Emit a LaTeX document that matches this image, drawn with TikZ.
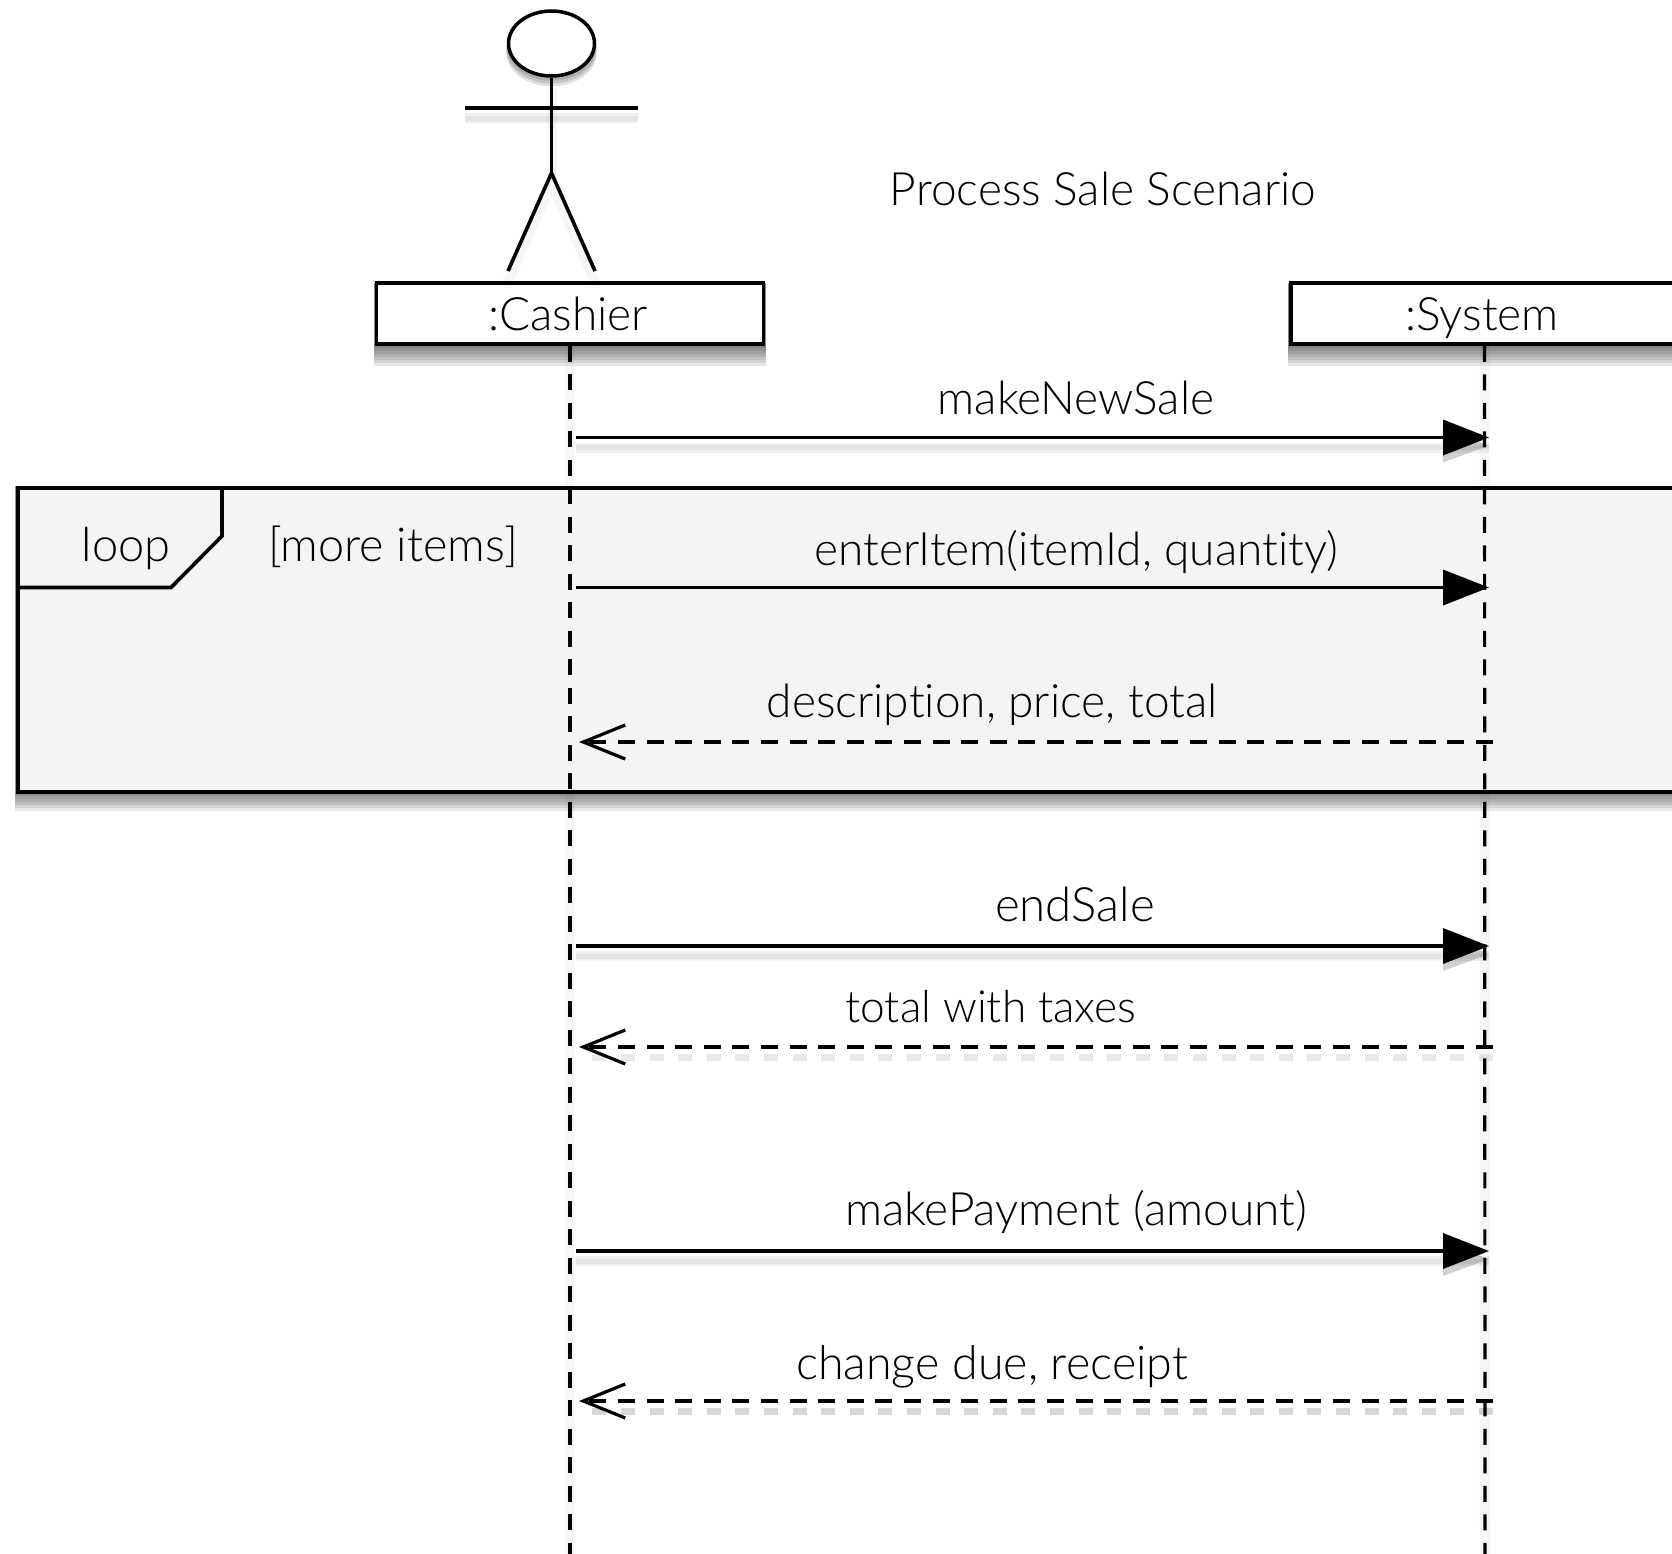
\documentclass[tikz,border=0pt]{standalone}
\usepackage{fontspec}
\setmainfont[Ligatures=NoCommon]{Lato Light}
\usetikzlibrary{arrows.meta,backgrounds,shapes.geometric}
\tikzset{
  ink/.style={line width=1.8pt,black,line cap=butt},
  classbox/.style={draw=black,line width=1.75pt,fill=white,rectangle,minimum width=193.5pt,minimum height=30.5pt,inner sep=0pt},
  framebox/.style={draw=black,line width=1.75pt,fill=framegray,rectangle,minimum width=836pt,minimum height=152pt,inner sep=0pt},
  lifeline/.style={line width=1.6pt,black,dash pattern=on 8pt off 6.25pt},
  sync/.style={ink,-{Triangle[length=23pt,width=17.5pt]}},
  reply/.style={ink,dash pattern=on 8.5pt off 5.8pt,-{Straight Barb[length=21pt,width=17pt,line width=1.6pt]}},
  lbl/.style={anchor=base,inner sep=0pt,font=\fontsize{23}{27}\selectfont,text=black},
  softline/.style={black,draw opacity=.05,line width=2.5pt},
  softwide/.style={black,draw opacity=.06,line width=5pt},
  softfaint/.style={black,draw opacity=.035,line width=5pt},
  softdash/.style={black!60,draw opacity=.14,line width=3.5pt,dash pattern=on 7pt off 7.3pt},
  layerfill/.style={black,fill opacity=.09,draw=none},
}
\definecolor{framegray}{HTML}{F4F4F4}
\begin{document}
\begin{tikzpicture}[x=0.5pt,y=-0.5pt]
\useasboundingbox (0,0) rectangle (1672,1554);
% frame and class boxes
\node[framebox] (frame) at (854,640) {};
\node[classbox] (cashier) at (570,313.5) {};
\node[classbox] (system) at (1484.5,313.5) {};
% actor
\node[draw=black,line width=1.75pt,fill=white,ellipse,minimum width=43pt,minimum height=32.5pt,inner sep=0pt] (head) at (551.5,43.5) {};
\coordinate (shoulderL) at (465,108);
\coordinate (shoulderR) at (638,108);
\coordinate (hip) at (551.5,173);
\coordinate (footL) at (508,271);
\coordinate (footR) at (595,271);
\draw[ink] (head.south) -- (hip);
\draw[ink] (shoulderL) -- (shoulderR);
\draw[ink,line join=miter] (footL) -- (hip) -- (footR);
% lifeline ends and message anchors
\coordinate (cashierEnd) at (570,1554);
\coordinate (systemEnd) at (1485,1554);
\foreach \n/\yy in {a/437.5,b/587.5,c/742,d/946,e/1047,f/1251,g/1401}{
  \coordinate (l\n) at (576,\yy);
  \coordinate (r\n) at (1489,\yy);
  \coordinate (rl\n) at (1493,\yy);
  \coordinate (ll\n) at (579,\yy);
}
% shadows, all behind the frame
\begin{scope}[on background layer]
  \foreach \d in {2,5,8,11,14,17,20}{
    \fill[layerfill] ([xshift=-.6pt,yshift=-1pt]cashier.north west) rectangle ([xshift=.6pt,yshift=-\d*0.5pt]cashier.south east);
    \fill[layerfill] ([xshift=-.6pt,yshift=-1pt]system.north west) rectangle ([xshift=.6pt,yshift=-\d*0.5pt]system.south east);
  }
  \foreach \d in {2,5,8,11,14,17}{
    \fill[layerfill] ([xshift=-.6pt]frame.north west) rectangle ([xshift=.6pt,yshift=-\d*0.5pt]frame.south east);
  }
  \foreach \s in {3,5,7}{
    \fill[black,fill opacity=.12] ([shift={(0pt,-\s pt*0.7)}]head.center) ellipse [x radius=22.5pt,y radius=16.5pt];
  }
  \begin{scope}[transform canvas={yshift=-5pt}]
    \draw[softwide] (shoulderL) -- (shoulderR);
    \draw[softline] (shoulderL) -- (shoulderR);
    \draw[softfaint] (head.south) -- (hip);
    \draw[softfaint] (footL) -- (hip) -- (footR);
    \draw[softwide] (la) -- (ra);
    \draw[softwide] (ld) -- (rd);
    \draw[softwide] (lf) -- (rf);
    \draw[softline] (la) -- (ra);
    \draw[softline] (ld) -- (rd);
    \draw[softline] (lf) -- (rf);
    \draw[softdash] (rle) -- (lle);
    \draw[softdash] (rlg) -- (llg);
    \draw[softdash] (rlg) -- (llg);
  \end{scope}
  \draw[softfaint] (cashier.south) -- (cashierEnd);
  \draw[softfaint] (system.south) -- (systemEnd);
  \foreach \n in {a,d,f}{
    \fill[black,fill opacity=.18] ([shift={(-23pt,-4pt+8.5pt)}]r\n) -- ([shift={(0pt,-4pt)}]r\n) -- ([shift={(-23pt,-4pt-8.5pt)}]r\n) -- cycle;
  }
\end{scope}
% frame tag
\coordinate (tagtop) at (222,486);
\coordinate (tagr) at (222,536);
\coordinate (tagd) at (171,587.5);
\coordinate (tagl) at (17,587.5);
\draw[ink,line join=miter] (tagtop) -- (tagr) -- (tagd) -- (tagl);
% lifelines
\draw[lifeline] (cashier.south) -- (cashierEnd);
\draw[lifeline] (system.south) -- (systemEnd);
% messages
\draw[sync] (la) -- (ra);
\draw[sync] (lb) -- (rb);
\draw[reply] (rlc) -- (llc);
\draw[sync] (ld) -- (rd);
\draw[reply] (rle) -- (lle);
\draw[sync] (lf) -- (rf);
\draw[reply] (rlg) -- (llg);
% texts
\node[lbl] (title) at (1103,205.5) {Process Sale Scenario};
\node[lbl] (cashierText) at (568,330.5) {:Cashier};
\node[lbl] (systemText) at (1482,330.5) {:System};
\node[lbl] (m1) at (1076,414) {makeNewSale};
\node[lbl,font=\fontsize{23.5}{27}\selectfont] (loopText) at (126,561) {loop};
\node[lbl,font=\fontsize{23.4}{27}\selectfont] (guard) at (393,561) {[more items]};
\node[lbl] (m2) at (1076,565.5) {enterItem(itemId, quantity)};
\node[lbl] (m3) at (992,717.5) {description, price, total};
\node[lbl,font=\fontsize{23.7}{27}\selectfont] (m4) at (1075,921) {endSale};
\node[lbl,font=\fontsize{22.1}{27}\selectfont] (m5) at (991,1022.5) {total with taxes};
\node[lbl] (m6) at (1076,1225) {makePayment (amount)};
\node[lbl,font=\fontsize{23.3}{27}\selectfont] (m7) at (992,1379) {change due, receipt};
\end{tikzpicture}
\end{document}
